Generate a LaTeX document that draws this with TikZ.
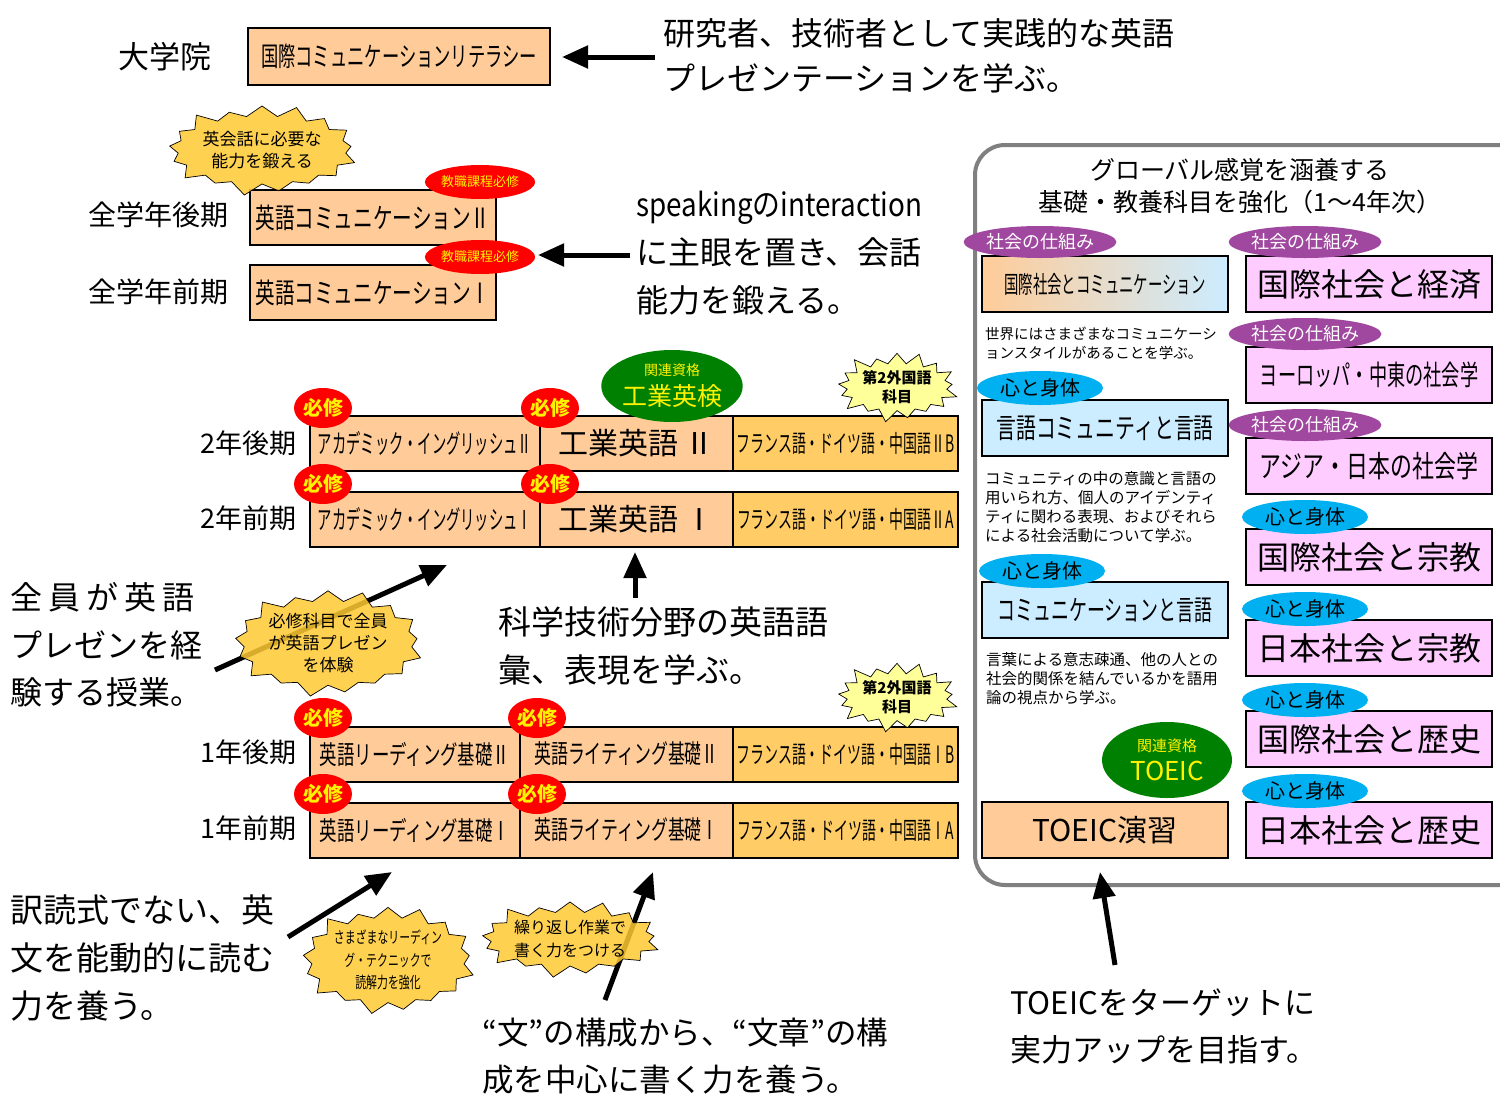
\documentclass[tikz,border=0pt]{standalone}
\usepackage{fontspec}
\setmainfont{Noto Sans CJK JP}
\usepackage{graphicx}
\usetikzlibrary{shapes.geometric,shapes.symbols,arrows.meta}
\newcommand{\sx}[2]{\scalebox{#1}[1]{#2}}
\newcommand{\fsz}[2]{\fontsize{#1}{#2}\selectfont}
\definecolor{peach}{HTML}{FFCC99}
\definecolor{orangec}{HTML}{FFCC66}
\definecolor{pinkc}{HTML}{FFCCFF}
\definecolor{lbluec}{HTML}{CCECFF}
\definecolor{purplec}{HTML}{A0479F}
\definecolor{cyanc}{HTML}{00B0F0}
\definecolor{greenc}{HTML}{008000}
\definecolor{goldc}{HTML}{FFC933}
\definecolor{paley}{HTML}{FFFF99}
\definecolor{grayc}{HTML}{808080}
\begin{document}
\begin{tikzpicture}[x=1pt,y=-1pt,
  box/.style={draw=black, line width=2pt, inner sep=0pt, minimum height=56pt},
  pbox/.style={box, fill=pinkc, minimum width=246pt},
  cell/.style={box, fill=peach, minimum height=55pt},
  lcell/.style={box, fill=orangec, minimum height=55pt, minimum width=225pt},
  burst/.style={starburst, starburst points=17, starburst point height=14pt, draw=black, line width=0.7pt, fill=goldc, fill opacity=0.85, text opacity=1, inner sep=0pt, align=center},
  req/.style={ellipse, fill=red, text=yellow, inner sep=0pt, minimum width=58pt, minimum height=40pt, font=\bfseries\fsz{20}{20}},
  kyo/.style={ellipse, fill=red, text=yellow, inner sep=0pt, minimum width=96pt, minimum height=34pt, font=\fsz{13}{13}},
  purp/.style={ellipse, fill=purplec, text=white, inner sep=0pt, minimum width=124pt, minimum height=32pt, font=\fsz{18}{18}},
  kokoro/.style={ellipse, fill=cyanc, text=black, inner sep=0pt, minimum width=126pt, minimum height=34pt, font=\fsz{20}{20}},
  qual/.style={ellipse, fill=greenc, text=yellow, inner sep=0pt, minimum width=132pt, minimum height=72pt, align=center},
  arr/.style={line width=5pt, -{Triangle[length=26pt,width=22pt]}},
  txt/.style={anchor=west, align=left, inner sep=0pt},
  lbl/.style={inner sep=0pt},
]
\useasboundingbox (0,0) rectangle (1500,1098);
\fill[white] (0,0) rectangle (1500,1098);

% ---------- top ----------
\node[lbl, font=\fsz{31}{31}] (daigakuin) at (165,57) {大学院};
\node[box, fill=peach, minimum width=302pt, minimum height=57pt] (grad) at (399,56.5) {\fsz{27}{27}\sx{0.64}{国際コミュニケーションリテラシー}};
\node[txt, font=\fsz{32}{45}] (toptext) at (663,55.5) {研究者、技術者として実践的な英語\\プレゼンテーションを学ぶ。};
\coordinate (a1s) at (655,57);
\coordinate (a1e) at (562,57);
\draw[arr] (a1s) -- (a1e);

% ---------- communication ----------
\node[lbl, anchor=east, font=\fsz{28}{28}] (zkoki) at (229,215) {全学年後期};
\node[lbl, anchor=east, font=\fsz{28}{28}] (zzenki) at (229,292) {全学年前期};
\node[box, fill=peach, minimum width=246pt, minimum height=55pt] (ec2) at (373,217.5) {\fsz{28}{28}\sx{0.7}{英語コミュニケーションⅡ}};
\node[box, fill=peach, minimum width=246pt, minimum height=55pt] (ec1) at (373,292.5) {\fsz{28}{28}\sx{0.7}{英語コミュニケーションⅠ}};
\node[kyo] (kyo2) at (480,182) {教職課程必修};
\node[kyo] (kyo1) at (480,257) {教職課程必修};
\node[txt, font=\fsz{32}{48}] (sptext) at (636,253) {\sx{0.87}{speakingのinteraction}\\に主眼を置き、会話\\能力を鍛える。};
\coordinate (a2s) at (630,255);
\coordinate (a2e) at (538,255);
\draw[arr] (a2s) -- (a2e);

% ---------- 2nd year ----------
\node[lbl, anchor=east, font=\fsz{27}{27}] (y2k) at (297,443) {2年後期};
\node[lbl, anchor=east, font=\fsz{27}{27}] (y2z) at (297,518) {2年前期};
\node[cell, minimum width=230pt] (ae2) at (425,443.5) {\fsz{26}{26}\sx{0.55}{アカデミック・イングリッシュⅡ}};
\node[cell, minimum width=193pt] (ke2) at (636.5,443.5) {\fsz{30}{30}工業英語 Ⅱ};
\node[lcell] (fl2b) at (845.5,443.5) {\fsz{24}{24}\sx{0.58}{フランス語・ドイツ語・中国語ⅡB}};
\node[cell, minimum width=230pt] (ae1) at (425,519.5) {\fsz{26}{26}\sx{0.55}{アカデミック・イングリッシュⅠ}};
\node[cell, minimum width=193pt] (ke1) at (636.5,519.5) {\fsz{30}{30}工業英語 Ⅰ};
\node[lcell] (fl2a) at (845.5,519.5) {\fsz{24}{24}\sx{0.58}{フランス語・ドイツ語・中国語ⅡA}};
\node[req] (r1) at (323,408) {必修};
\node[req] (r2) at (550,408) {必修};
\node[req] (r3) at (323,484) {必修};
\node[req] (r4) at (550,484) {必修};
\node[qual] (kogyo) at (672,386) {\fsz{14}{14}関連資格\\[7pt]\fsz{25}{25}工業英検};

% ---------- 1st year ----------
\node[lbl, anchor=east, font=\fsz{27}{27}] (y1k) at (297,752) {1年後期};
\node[lbl, anchor=east, font=\fsz{27}{27}] (y1z) at (297,828) {1年前期};
\node[cell, minimum width=210pt] (er2) at (415,754) {\fsz{26}{26}\sx{0.67}{英語リーディング基礎Ⅱ}};
\node[cell, minimum width=213pt] (ew2) at (626.5,754) {\fsz{26}{26}\sx{0.65}{英語ライティング基礎Ⅱ}};
\node[lcell] (fl1b) at (845.5,754) {\fsz{24}{24}\sx{0.58}{フランス語・ドイツ語・中国語ⅠB}};
\node[cell, minimum width=210pt] (er1) at (415,830) {\fsz{26}{26}\sx{0.67}{英語リーディング基礎Ⅰ}};
\node[cell, minimum width=213pt] (ew1) at (626.5,830) {\fsz{26}{26}\sx{0.65}{英語ライティング基礎Ⅰ}};
\node[lcell] (fl1a) at (845.5,830) {\fsz{24}{24}\sx{0.58}{フランス語・ドイツ語・中国語ⅠA}};
\node[req] (r5) at (323,718) {必修};
\node[req] (r6) at (537,718) {必修};
\node[req] (r7) at (323,794) {必修};
\node[req] (r8) at (537,794) {必修};

% ---------- side texts and arrows ----------
\node[txt, font=\fsz{33}{48}] (scitext) at (498,646) {科学技術分野の英語語\\彙、表現を学ぶ。};
\coordinate (a3s) at (635,598);
\coordinate (a3e) at (635,552);
\draw[arr] (a3s) -- (a3e);

\node[txt, font=\fsz{32}{47.5}] (pretext) at (10,645) {全\hspace{6pt}員\hspace{6pt}が\hspace{6pt}英\hspace{6pt}語\\プレゼンを経\\験する授業。};
\coordinate (a4s) at (215,670);
\coordinate (a4e) at (447,565);
\draw[arr] (a4s) -- (a4e);

\node[txt, font=\fsz{33}{48}] (readtext) at (10,958) {訳読式でない、英\\文を能動的に読む\\力を養う。};
\coordinate (a5s) at (288,937);
\coordinate (a5e) at (392,872);
\draw[arr] (a5s) -- (a5e);

\node[txt, font=\fsz{31.5}{47}] (writetext) at (482,1056.5) {“文”の構成から、“文章”の構\\成を中心に書く力を養う。};
\coordinate (a6s) at (605,1000);
\coordinate (a6e) at (653,872);
\draw[arr] (a6s) -- (a6e);

% ---------- starbursts ----------
\node[burst, minimum width=170pt, minimum height=96pt, font=\fsz{17}{22}] (sb1) at (262,150) {英会話に必要な\\能力を鍛える};
\node[burst, minimum width=172pt, minimum height=107pt, font=\fsz{17}{22}] (sb2) at (328,643) {必修科目で全員\\が英語プレゼン\\を体験};
\node[burst, minimum width=137pt, minimum height=104pt, font=\fsz{16}{22.5}] (sb3) at (388,960) {\sx{0.68}{さまざまなリーディン}\\\sx{0.68}{グ・テクニックで}\\\sx{0.68}{読解力を強化}};
\node[burst, minimum width=146pt, minimum height=82pt, font=\fsz{16}{23}] (sb4) at (570,939) {繰り返し作業で\\書く力をつける};
\node[burst, fill=paley, fill opacity=1, minimum width=128pt, minimum height=72pt, font=\bfseries\fsz{15}{19}] (sb5) at (897,387) {第2外国語\\科目};
\node[burst, fill=paley, fill opacity=1, minimum width=128pt, minimum height=72pt, font=\bfseries\fsz{15}{19}] (sb6) at (897,697) {第2外国語\\科目};

% ---------- right panel ----------
\draw[grayc, line width=4pt, rounded corners=30pt] (975,145) rectangle (1530,885);
\node[lbl, align=center, font=\fsz{25}{32}] (ptitle) at (1240,186) {グローバル感覚を涵養する\\基礎・教養科目を強化（1～4年次）};

\node[box, left color=peach, right color=lbluec, minimum width=246pt] (kc) at (1105,284) {\fsz{24}{24}\sx{0.6}{国際社会とコミュニケーション}};
\node[purp] (e1) at (1040,242) {社会の仕組み};
\node[txt, font=\fsz{14.5}{19}] (d1) at (985,343.5) {世界にはさまざまなコミュニケーシ\\ョンスタイルがあることを学ぶ。};

\node[box, fill=lbluec, minimum width=246pt] (gc) at (1105,428) {\fsz{28}{28}\sx{0.71}{言語コミュニティと言語}};
\node[kokoro] (e2) at (1040,388) {心と身体};
\node[txt, font=\fsz{15.5}{19}] (d2) at (985,507.5) {コミュニティの中の意識と言語の\\用いられ方、個人のアイデンティ\\ティに関わる表現、およびそれら\\による社会活動について学ぶ。};

\node[box, fill=lbluec, minimum width=246pt] (cg) at (1105,610) {\fsz{28}{28}\sx{0.64}{コミュニケーションと言語}};
\node[kokoro] (e3) at (1042,571) {心と身体};
\node[txt, font=\fsz{15.5}{19}] (d3) at (986,679) {言葉による意志疎通、他の人との\\社会的関係を結んでいるかを語用\\論の視点から学ぶ。};

\node[qual, minimum width=130pt, minimum height=76pt] (toeicq) at (1167,760) {\fsz{15}{15}関連資格\\[7pt]\fsz{26}{26}TOEIC};
\node[box, fill=peach, minimum width=246pt] (toeic) at (1105,830) {\fsz{30}{30}TOEIC演習};

\node[pbox] (b1) at (1369,284) {\fsz{32}{32}国際社会と経済};
\node[purp] (f1) at (1305,242) {社会の仕組み};
\node[pbox] (b2) at (1369,375) {\fsz{28}{28}\sx{0.65}{ヨーロッパ・中東の社会学}};
\node[purp] (f2) at (1305,334) {社会の仕組み};
\node[pbox] (b3) at (1369,466) {\fsz{30}{30}\sx{0.73}{アジア・日本の社会学}};
\node[purp] (f3) at (1305,425) {社会の仕組み};
\node[pbox] (b4) at (1369,557) {\fsz{32}{32}国際社会と宗教};
\node[kokoro] (f4) at (1305,517) {心と身体};
\node[pbox] (b5) at (1369,648) {\fsz{32}{32}日本社会と宗教};
\node[kokoro] (f5) at (1305,609) {心と身体};
\node[pbox] (b6) at (1369,739) {\fsz{32}{32}国際社会と歴史};
\node[kokoro] (f6) at (1305,700) {心と身体};
\node[pbox] (b7) at (1369,830) {\fsz{32}{32}日本社会と歴史};
\node[kokoro] (f7) at (1305,791) {心と身体};

\node[txt, font=\fsz{31}{47}] (toeictext) at (1010,1026.5) {TOEICをターゲットに\\実力アップを目指す。};
\coordinate (a7s) at (1115,965);
\coordinate (a7e) at (1100,872);
\draw[arr] (a7s) -- (a7e);
\end{tikzpicture}
\end{document}
